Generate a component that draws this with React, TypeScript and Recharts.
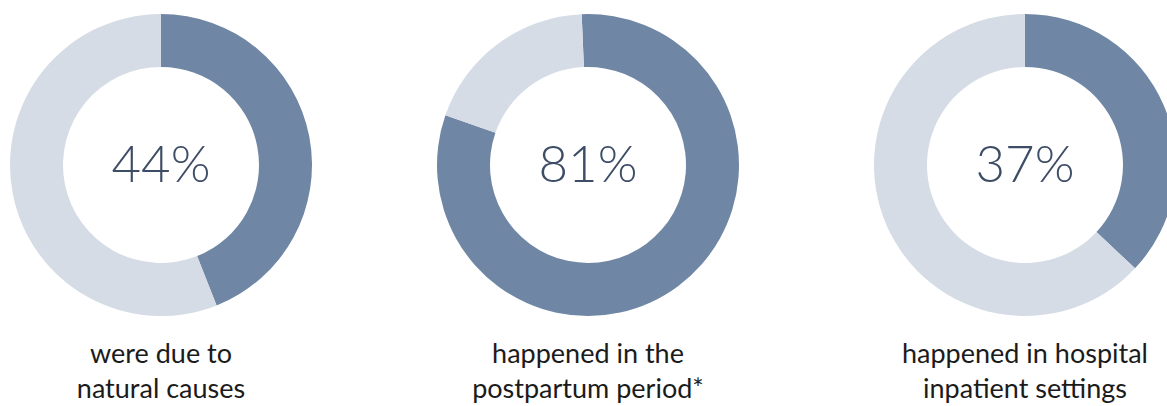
import { PieChart, Pie, Cell, Label } from 'recharts'

const SHARES = [44, 81, 37]
const CAPTIONS = [
  ['were due to', 'natural causes'],
  ['happened in the', 'postpartum period*'],
  ['happened in hospital', 'inpatient settings'],
]
const CENTERS_X = [161, 588, 1025]
const START_ANGLES = [90, 92.4, 90]

const DARK = '#7086a5'
const LIGHT = '#d5dce6'
const FONT = 'Lato, "Noto Sans", sans-serif'

function CenterValue({ viewBox, value }: any) {
  return (
    <text x={viewBox?.cx} y={(viewBox?.cy ?? 0) - 3} textAnchor="middle" dominantBaseline="central"
      fontFamily={FONT} fontWeight={300} fontSize={51} fill="#3e4d66">
      {value}
    </text>
  )
}

function Caption({ viewBox, lines }: any) {
  const cx = viewBox?.cx ?? 0
  return (
    <text x={cx} y={363} textAnchor="middle" fontFamily={FONT} fontSize={27} fill="#1b1b1b">
      {lines.map((l: string, i: number) => (
        <tspan key={i} x={cx} dy={i === 0 ? 0 : 35}>{l}</tspan>
      ))}
    </text>
  )
}

export default function App() {
  return (
    <div style={{ position: 'absolute', left: 0, top: 0, background: '#fff' }}>
      <PieChart width={1167} height={406} margin={{ top: 0, right: 0, bottom: 0, left: 0 }}>
        {SHARES.map((v, i) => {
          const data = [
            { name: 'share', value: v },
            { name: 'rest', value: 100 - v },
          ]
          return (
            <Pie key={i} data={data} dataKey="value" cx={CENTERS_X[i]} cy={165}
              innerRadius={98} outerRadius={151}
              startAngle={START_ANGLES[i]} endAngle={START_ANGLES[i] - 360}
              stroke="none" isAnimationActive={false}>
              <Cell fill={DARK} />
              <Cell fill={LIGHT} />
              <Label content={(p: any) => <CenterValue {...p} value={`${v}%`} />} />
              <Label content={(p: any) => <Caption {...p} lines={CAPTIONS[i]} />} />
            </Pie>
          )
        })}
      </PieChart>
    </div>
  )
}
